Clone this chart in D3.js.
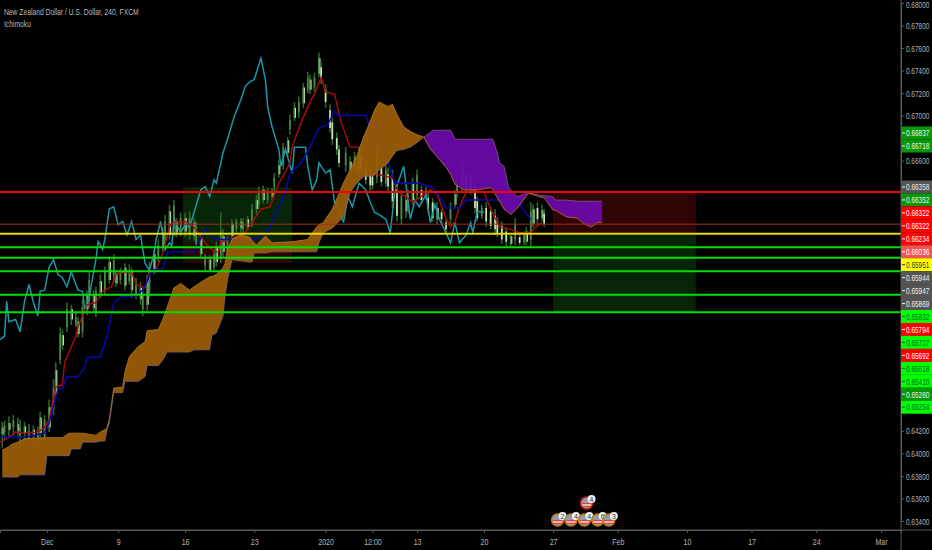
<!DOCTYPE html>
<html><head><meta charset="utf-8">
<script src="https://cdn.jsdelivr.net/npm/d3@7"></script>
<style>html,body{margin:0;padding:0;background:#000;overflow:hidden}svg{display:block}text{font-family:"Liberation Sans",Arial,sans-serif}</style>
</head><body><svg id="c" width="932" height="550"></svg>
<script>
// All prices are in pips (price x 10000); bars are 4-hour bar numbers from the left edge.
const candleBar=[1,2,4,6,8,9,11,13,15,17,18,20,22,24,25,27,28,30,32,34,35,37,39,40,42,43,45,47,49,51,52,54,56,58,59,61,63,64,66,67,69,71,73,74,76,78,79,81,83,85,87,88,90,92,94,96,97,99,100,102,104,106,108,109,111,113,115,116,118,120,122,123,125,127,129,130,132,134,136,138,139,141,143,144,146,148,149,151,152,155,157,159,161,162,164,166,167,169,171,173,174,176,178,180,182,183,185,187,189,191,192,194,196,198,200,202,204,205,207,209,211,213,214,216,218,220,222,223,225,227,229,231,233,235,236,238,239,241,243,244];
const candleHigh=[6428,6429,6433,6434,6432,6430,6428,6426,6425,6424,6437,6434,6448,6466,6481,6512,6510,6534,6532,6525,6521,6537,6545,6561,6545,6548,6559,6566,6575,6577,6563,6565,6569,6568,6565,6556,6552,6545,6559,6570,6581,6590,6601,6612,6621,6625,6609,6614,6614,6615,6609,6606,6596,6577,6576,6581,6588,6614,6599,6593,6608,6609,6609,6609,6611,6622,6630,6637,6638,6636,6636,6649,6661,6676,6681,6701,6712,6717,6729,6739,6736,6738,6756,6748,6728,6710,6698,6685,6674,6672,6664,6668,6672,6670,6656,6652,6650,6672,6658,6656,6654,6652,6640,6634,6630,6634,6645,6652,6638,6637,6632,6627,6623,6617,6608,6623,6634,6649,6665,6652,6650,6643,6628,6621,6623,6619,6617,6610,6606,6601,6596,6609,6594,6597,6601,6623,6621,6623,6621,6617];
const candleLow=[6405,6412,6414,6416,6415,6403,6412,6410,6412,6408,6414,6412,6419,6434,6450,6479,6492,6508,6514,6512,6503,6503,6523,6530,6525,6521,6538,6541,6551,6552,6548,6550,6545,6550,6538,6537,6532,6522,6526,6538,6559,6570,6579,6581,6590,6593,6592,6593,6592,6590,6589,6583,6574,6563,6561,6561,6566,6569,6574,6575,6589,6595,6596,6595,6598,6601,6612,6617,6622,6622,6625,6633,6645,6652,6663,6683,6695,6698,6707,6720,6719,6721,6734,6728,6707,6685,6674,6665,6654,6650,6648,6650,6648,6650,6639,6633,6634,6640,6637,6637,6633,6618,6606,6603,6609,6613,6621,6625,6622,6625,6613,6606,6604,6604,6595,6604,6617,6627,6633,6632,6630,6613,6606,6608,6601,6599,6594,6592,6586,6584,6584,6585,6585,6585,6585,6583,6601,6604,6606,6601];
const candleOpen=[6417,6419,6421,6423,6420,6416,6418,6414,6416,6414,6418,6414,6423,6439,6453,6483,6496,6512,6519,6514,6506,6508,6528,6535,6529,6524,6542,6545,6554,6558,6551,6554,6549,6553,6545,6540,6537,6528,6532,6544,6563,6574,6583,6586,6594,6599,6596,6597,6597,6594,6593,6586,6577,6567,6563,6565,6570,6574,6579,6579,6593,6599,6600,6599,6601,6604,6617,6621,6625,6625,6628,6636,6648,6656,6667,6688,6698,6703,6711,6723,6723,6725,6737,6743,6723,6705,6694,6680,6670,6656,6652,6654,6652,6665,6652,6648,6646,6645,6654,6640,6648,6645,6634,6608,6615,6618,6625,6630,6634,6628,6627,6623,6608,6614,6605,6608,6621,6632,6639,6648,6634,6638,6624,6611,6618,6615,6611,6606,6602,6597,6586,6590,6592,6588,6588,6590,6604,6618,6609,6613];
const candleClose=[6423,6425,6427,6429,6426,6423,6424,6420,6421,6419,6432,6430,6441,6458,6474,6506,6505,6528,6528,6521,6517,6530,6540,6554,6541,6544,6553,6561,6570,6572,6560,6561,6565,6563,6561,6552,6547,6541,6554,6565,6577,6585,6596,6606,6615,6620,6606,6609,6609,6609,6605,6601,6592,6574,6572,6577,6584,6597,6593,6590,6604,6606,6606,6605,6608,6617,6625,6633,6634,6633,6633,6645,6656,6672,6678,6696,6707,6712,6725,6734,6732,6734,6751,6732,6712,6689,6679,6670,6658,6667,6659,6664,6667,6654,6643,6638,6638,6661,6641,6652,6637,6624,6611,6629,6625,6629,6640,6647,6625,6634,6617,6609,6618,6608,6599,6618,6630,6645,6656,6636,6646,6618,6609,6618,6606,6602,6599,6595,6590,6588,6593,6604,6587,6594,6597,6615,6617,6608,6616,6604];

const chikouBar=[0,2,3,4,7,9,11,13,15,17,18,20,22,24,26,28,30,32,35,37,38,40,43,44,45,46,47,49,51,53,55,57,59,61,63,65,67,69,70,72,74,76,77,78,81,83,85,87,90,92,94,96,97,100,102,105,108,110,112,114,117,119,120,122,125,126,128,131,132,137,138,140,142,143,146,148,150,152,154,156,158,161,164,166,168,170,173,175,177,181,184,186,188,191,193,195,197,200,202,204,206,209,211,212,214,217];
const chikouValue=[6501,6504,6535,6517,6519,6508,6535,6550,6534,6522,6544,6545,6565,6572,6559,6556,6548,6561,6545,6544,6528,6539,6572,6588,6585,6581,6590,6617,6619,6603,6606,6594,6606,6590,6594,6569,6563,6577,6590,6606,6581,6587,6584,6608,6596,6603,6601,6614,6634,6637,6628,6643,6640,6667,6679,6699,6714,6726,6730,6732,6751,6732,6708,6690,6670,6655,6670,6649,6672,6672,6655,6634,6643,6658,6649,6652,6623,6617,6605,6628,6619,6640,6634,6623,6614,6612,6608,6596,6632,6655,6608,6625,6619,6630,6605,6621,6608,6596,6587,6605,6587,6594,6605,6596,6615,6614];

const tenkanBar=[0,4,7,11,17,20,22,25,28,29,31,34,35,37,39,43,46,50,52,56,59,61,65,67,70,73,76,77,83,87,92,96,98,99,103,110,114,117,121,125,128,130,131,135,139,141,144,146,150,153,157,161,164,167,173,176,178,182,185,188,193,196,200,202,204,206,209,213,217,220,224,229,233,238,240,243];
const tenkanValue=[6410,6414,6419,6418,6419,6423,6430,6459,6461,6481,6490,6504,6513,6522,6532,6534,6544,6548,6559,6561,6561,6550,6547,6561,6563,6578,6601,6605,6606,6601,6587,6579,6579,6588,6590,6596,6608,6617,6619,6640,6650,6658,6672,6694,6712,6719,6734,6721,6719,6694,6672,6672,6655,6649,6646,6645,6634,6628,6623,6627,6634,6630,6609,6601,6606,6619,6632,6633,6632,6617,6601,6599,6596,6596,6601,6605];

const kijunBar=[0,9,20,22,26,28,30,35,38,39,45,48,51,54,61,64,66,68,73,75,78,87,92,96,114,120,123,128,130,135,139,143,147,150,152,164,168,170,174,177,188,194,197,200,206,209,224,229,233,238];
const kijunValue=[6415,6414,6418,6427,6457,6458,6468,6468,6476,6485,6486,6504,6534,6539,6540,6545,6553,6563,6564,6578,6579,6579,6599,6590,6590,6597,6610,6632,6649,6658,6672,6689,6692,6704,6700,6700,6679,6670,6659,6640,6640,6636,6628,6618,6618,6625,6625,6621,6621,6608];

const cloudBar=[1,4,5,8,9,11,20,21,28,31,32,36,37,43,45,47,48,49,51,55,56,58,62,65,66,71,73,75,78,81,85,87,94,95,97,100,101,102,104,108,112,113,114,115,119,122,131,138,140,142,143,145,149,154,157,160,163,165,168,170,173,174,176,178,181,184,187,190,193,194,197,200,202,204,208,214,220,221,223,224,226,228,229,232,237,242,244,248,249,254,259,261,265,268,270];
const spanA=[6403,6406,6408,6410,6411,6413,6414,6414,6414,6418,6418,6418,6418,6416,6419,6421,6423,6430,6458,6459,6472,6486,6495,6499,6509,6510,6519,6530,6547,6551,6545,6548,6557,6557,6559,6565,6569,6581,6590,6594,6592,6589,6587,6585,6593,6587,6588,6590,6596,6601,6603,6605,6617,6640,6652,6664,6681,6690,6705,6712,6709,6708,6710,6701,6690,6686,6683,6681,6670,6668,6661,6654,6648,6639,6634,6634,6636,6634,6627,6624,6617,6614,6612,6618,6631,6628,6627,6616,6616,6610,6609,6605,6601,6605,6605];
const spanB=[6379,6379,6379,6379,6381,6381,6381,6398,6398,6398,6404,6404,6410,6410,6411,6411,6421,6427,6454,6454,6464,6464,6464,6468,6478,6478,6483,6490,6490,6490,6490,6492,6492,6505,6507,6522,6541,6554,6572,6571,6570,6570,6578,6578,6578,6579,6579,6579,6579,6579,6587,6596,6600,6610,6632,6640,6646,6646,6647,6652,6656,6658,6664,6669,6670,6672,6676,6681,6685,6687,6687,6687,6687,6679,6679,6679,6679,6679,6667,6658,6655,6637,6634,6628,6632,6629,6629,6628,6625,6625,6624,6624,6624,6624,6624];

const zoneStart=[82,248], zoneEnd=[131,312];
const zoneTop=[6636,6632.2], zoneEntry=[6587,6595.1], zoneBottom=[6569,6525.4];
const zoneUpperIsGreen=[true,false];

const levelPrices=[6632.2,6603.6,6595.1,6583.2,6573.7,6561.8,6541.0,6525.4];
const levelColors=["#f00000","#a0301a","#e6d800","#00e000","#00e000","#00e000","#00e000","#00e000"];

const priceTicks=[6800,6780,6760,6740,6720,6700,6660,6420,6400,6380,6360,6340];
const timeTickBars=[21,53,83,114,146,167,187,217,248,277,308,337,366,395];
const timeTickLabels=["Dec","9","16","23","2020","12:00","13","20","27","Feb","10","17","24","Mar"];

const tagTop=["0.66837","0.66718"];
const tagMain=["0.66358","0.66352","0.66322","0.66322","0.66234","0.66036","0.65951","0.65944","0.65947","0.65869","0.65832","0.65794","0.65737","0.65692","0.65618","0.65410","0.65260","0.65254"];
const tagMainFill=["#555","#0a980a","#f00","#f00","#f00","#f05555","#ff0","#555","#555","#555","#0f0","#f00","#0f0","#f00","#0f0","#0f0","#0a980a","#0f0"];
const tagMainText=["#eee","#eee","#fff","#fff","#fff","#fff","#333","#eee","#eee","#eee","#063","#fff","#063","#fff","#063","#063","#eee","#063"];

const iconBars=[250,256,262,268,273,263];
const iconCounts=["2","4","4","6","3","4"];
const iconRaised=[false,false,false,false,false,true];

const W=932,H=550,axisX=901,axisY=530,squeeze=.68;
const svg=d3.select("#c");
svg.append("rect").attr("width",W).attr("height",H).attr("fill","#000");
const x=d3.scaleLinear().domain([0,404]).range([0,axisX]);
const y=d3.scaleLinear().domain([6800,6340]).range([3,521]);
const plot=svg.append("g");

// zones
zoneStart.forEach((s,i)=>{
  const rx=x(s),rw=x(zoneEnd[i])-x(s);
  const g="#062406",r="#2e0404";
  plot.append("rect").attr("x",rx).attr("width",rw).attr("y",y(zoneTop[i])).attr("height",y(zoneEntry[i])-y(zoneTop[i])).attr("fill",zoneUpperIsGreen[i]?g:r);
  plot.append("rect").attr("x",rx).attr("width",rw).attr("y",y(zoneEntry[i])).attr("height",y(zoneBottom[i])-y(zoneEntry[i])).attr("fill",zoneUpperIsGreen[i]?r:g);
});

// candles
const candles=plot.append("g");
candleBar.forEach((b,i)=>{
  candles.append("line").attr("x1",x(b)).attr("x2",x(b)).attr("y1",y(candleHigh[i])).attr("y2",y(candleLow[i])).attr("stroke","#2c662a").attr("stroke-width",1.6);
  const up=candleClose[i]>=candleOpen[i];
  candles.append("line").attr("x1",x(b)).attr("x2",x(b)).attr("y1",y(candleOpen[i])).attr("y2",y(candleClose[i])).attr("stroke",up?"#4a8844":"#c4e8b2").attr("stroke-width",1.7);
  if(up&&i%2==0) candles.append("line").attr("x1",x(b)+1.1).attr("x2",x(b)+1.1).attr("y1",y(candleOpen[i])).attr("y2",y(candleClose[i])).attr("stroke","#c4e8b2").attr("stroke-width",1);
});

const path=(bars,vals)=>d3.line().x((d,i)=>x(bars[i])).y(d=>y(d))(vals);
plot.append("path").attr("d",path(chikouBar,chikouValue)).attr("fill","none").attr("stroke","#1a98a8").attr("stroke-width",1.5);
plot.append("path").attr("d",path(tenkanBar,tenkanValue)).attr("fill","none").attr("stroke","#b00c0c").attr("stroke-width",1.4);
plot.append("path").attr("d",path(kijunBar,kijunValue)).attr("fill","none").attr("stroke","#0808b0").attr("stroke-width",1.5);

// cloud
const rows=cloudBar.map((b,i)=>({b,a:spanA[i],s:spanB[i]}));
const area=d3.area().x(d=>x(d.b)).y0(d=>y(d.a)).y1(d=>y(d.s));
plot.append("path").attr("d",area(rows.filter(d=>d.a>=d.s))).attr("fill","#9a5e08").attr("fill-opacity",.93);
const turn=rows.findIndex(d=>d.s>d.a);
plot.append("path").attr("d",area(rows.slice(turn-1))).attr("fill","#6a08a8").attr("fill-opacity",.95);
plot.append("path").attr("d",path(cloudBar,spanA)).attr("fill","none").attr("stroke","#c07c20").attr("stroke-width",.8);
plot.append("path").attr("d",path(cloudBar,spanB)).attr("fill","none").attr("stroke","#80607a").attr("stroke-width",.8);

// horizontal levels
levelPrices.forEach((p,i)=>plot.append("line").attr("x1",0).attr("x2",axisX).attr("y1",y(p)).attr("y2",y(p)).attr("stroke",levelColors[i]).attr("stroke-width",i==1?1:2));

// icons
iconBars.forEach((b,i)=>{
  const cx=x(b),cy=iconRaised[i]?503:520;
  const g=svg.append("g").attr("transform",`translate(${cx},${cy})`);
  g.append("circle").attr("r",6).attr("fill","#8c9cb0").attr("stroke",iconRaised[i]?"#d02020":"#c07a10").attr("stroke-width",1.4);
  g.append("rect").attr("x",-4.5).attr("y",0).attr("width",9).attr("height",4).attr("fill","#e84030");
  g.append("rect").attr("x",-4.5).attr("y",1.4).attr("width",9).attr("height",1.2).attr("fill","#fff");
  g.append("circle").attr("cx",5).attr("cy",-4).attr("r",4).attr("fill","#f2f2f2");
  g.append("text").attr("x",5).attr("y",-1.4).attr("text-anchor","middle").attr("font-size",7).attr("fill","#333").text(iconCounts[i]);
});

// axes
svg.append("rect").attr("x",axisX).attr("width",W-axisX).attr("height",H).attr("fill","#000");
const yAxis=svg.append("g").attr("transform",`translate(${axisX},0)`).call(d3.axisRight(y).tickValues(priceTicks).tickSize(3).tickPadding(2).tickFormat(v=>(v/1e4).toFixed(5)));
const xAxis=svg.append("g").attr("transform",`translate(0,${axisY})`).call(d3.axisBottom(x).tickValues(timeTickBars).tickSize(3).tickPadding(5).tickFormat((d,i)=>timeTickLabels[i]));
[yAxis,xAxis].forEach(a=>{a.selectAll("path,line").attr("stroke","#585858");a.selectAll("text").attr("fill","#b4b4b4").attr("font-size",9.5);a.select("path.domain").attr("stroke","#585858")});
yAxis.selectAll("text").attr("x",5/squeeze).attr("transform",`scale(${squeeze},1)`);
yAxis.selectAll("text").filter(v=>v===priceTicks[0]).attr("y",1.5);
xAxis.selectAll("text").attr("transform",`scale(${squeeze+.06},1)`);
svg.append("line").attr("x1",axisX).attr("x2",axisX).attr("y1",0).attr("y2",H).attr("stroke","#585858");
svg.append("line").attr("x1",0).attr("x2",W).attr("y1",axisY).attr("y2",axisY).attr("stroke","#585858");

// price tags
const tag=(label,cy,fill,col)=>{
  svg.append("rect").attr("x",axisX).attr("y",cy-6.5).attr("width",W-axisX).attr("height",13).attr("fill",fill);
  svg.append("line").attr("x1",axisX+1).attr("x2",axisX+4).attr("y1",cy).attr("y2",cy).attr("stroke",col);
  svg.append("text").attr("transform",`translate(906,${cy+3.3}) scale(${squeeze},1)`).attr("font-size",9.5).attr("fill",col).text(label);
};
tagTop.forEach((t,i)=>tag(t,133+13*i,"#0a980a","#eee"));
tagMain.forEach((t,i)=>tag(t,187+12.95*i,tagMainFill[i],tagMainText[i]));

// title
svg.append("text").attr("transform",`translate(4,15) scale(.71,1)`).attr("font-size",9.5).attr("fill","#b8b8b8").text("New Zealand Dollar / U.S. Dollar, 240, FXCM");
svg.append("text").attr("transform",`translate(4,27) scale(.71,1)`).attr("font-size",9.5).attr("fill","#b8b8b8").text("Ichimoku");
</script></body></html>
